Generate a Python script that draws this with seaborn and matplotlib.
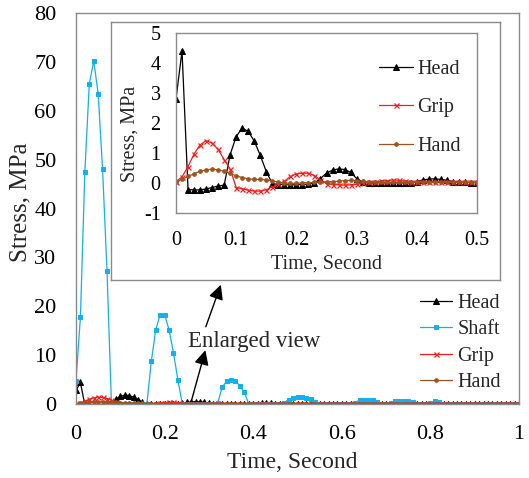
import numpy as np
import pandas as pd
import matplotlib
matplotlib.use("Agg")
import matplotlib.pyplot as plt
import seaborn as sns

# ---------------- data ----------------
time_s = np.round(np.arange(0, 101) * 0.01, 2)

head = [2.8, 4.4, -0.22, -0.23, -0.23, -0.2, -0.15, -0.1, -0.07, 0.95,
        1.55, 1.83, 1.72, 1.4, 0.92, 0.38, -0.02, -0.05, -0.05, -0.06,
        -0.06, -0.05, -0.04, 0.0, 0.15, 0.33, 0.43, 0.47, 0.45, 0.36,
        0.15, 0.03, 0.0, 0.0, 0.01, 0.0, 0.0, 0.01, 0.0, 0.0,
        0.05, 0.1, 0.13, 0.14, 0.12, 0.09, 0.05, 0.03, 0.02, 0.01,
        0.01, -0.02, -0.04, -0.05, -0.06, -0.06, -0.05, -0.04, -0.03, -0.02,
        -0.01, 0.0, 0.0, 0.01, 0.01, 0.0, 0.0, 0.0, -0.01, -0.01,
        0.0, 0.0, 0.0, 0.01, 0.0, 0.0, 0.0, 0.0, 0.0, 0.0,
        0.0, 0.0, 0.0, 0.0, 0.0, 0.0, 0.0, 0.0, 0.0, 0.0,
        0.0, 0.0, 0.0, 0.0, 0.0, 0.0, 0.0, 0.0, 0.0, 0.0, 0.0]

shaft = [4.8, 17.8, 47.5, 65.5, 70.2, 63.5, 48.0, 27.2, 0.0, 0.0,
         0.0, 0.0, 0.0, 0.0, 0.0, 0.0, 0.0, 8.7, 15.2, 18.3,
         18.3, 15.2, 10.5, 4.9, 0.0, 0.0, 0.0, 0.0, 0.0, 0.0,
         0.0, 0.0, 0.3, 3.4, 4.7, 5.0, 4.7, 3.7, 2.4, 0.0,
         0.0, 0.0, 0.0, 0.0, 0.0, 0.0, 0.0, 0.3, 0.9, 1.3,
         1.5, 1.5, 1.3, 1.0, 0.5, 0.0, 0.0, 0.0, 0.0, 0.0,
         0.0, 0.0, 0.0, 0.3, 0.8, 0.9, 0.9, 0.8, 0.5, 0.1,
         0.0, 0.3, 0.6, 0.6, 0.6, 0.6, 0.4, 0.0, 0.0, 0.0,
         0.3, 0.6, 0.5, 0.0, 0.0, 0.0, 0.0, 0.0, 0.0, 0.0,
         0.0, 0.0, 0.0, 0.0, 0.0, 0.0, 0.0, 0.0, 0.0, 0.0, 0.0]

grip = [0.05, 0.2, 0.55, 0.97, 1.27, 1.41, 1.33, 1.12, 0.78, 0.46,
        -0.15, -0.19, -0.24, -0.27, -0.27, -0.22, -0.13, -0.04, 0.06, 0.22,
        0.3, 0.33, 0.32, 0.25, 0.1, -0.02, -0.05, -0.06, -0.07, -0.06,
        -0.04, 0.0, 0.02, 0.04, 0.06, 0.08, 0.1, 0.09, 0.07, 0.05,
        0.03, 0.02, 0.02, 0.02, 0.02, 0.02, 0.02, 0.02, 0.02, 0.02,
        0.02, 0.02, 0.02, 0.02, 0.02, 0.02, 0.02, 0.02, 0.02, 0.02,
        0.02, 0.02, 0.02, 0.02, 0.02, 0.02, 0.02, 0.02, 0.02, 0.02,
        0.02, 0.02, 0.02, 0.02, 0.02, 0.02, 0.02, 0.02, 0.02, 0.02,
        0.02, 0.02, 0.02, 0.02, 0.02, 0.02, 0.02, 0.02, 0.02, 0.02,
        0.02, 0.02, 0.02, 0.02, 0.02, 0.02, 0.02, 0.02, 0.02, 0.02, 0.02]

hand = [0.05, 0.12, 0.22, 0.31, 0.39, 0.44, 0.46, 0.44, 0.39, 0.32,
        0.24, 0.18, 0.14, 0.12, 0.12, 0.11, 0.07, 0.03, 0.0, -0.01,
        -0.01, 0.0, 0.01, 0.02, 0.03, 0.04, 0.05, 0.06, 0.08, 0.09,
        0.08, 0.06, 0.04, 0.03, 0.03, 0.03, 0.03, 0.03, 0.03, 0.03,
        0.03, 0.03, 0.03, 0.03, 0.03, 0.03, 0.03, 0.03, 0.03, 0.03,
        0.03, 0.03, 0.03, 0.03, 0.03, 0.03, 0.03, 0.03, 0.03, 0.03,
        0.03, 0.03, 0.03, 0.03, 0.03, 0.03, 0.03, 0.03, 0.03, 0.03,
        0.03, 0.03, 0.03, 0.03, 0.03, 0.03, 0.03, 0.03, 0.03, 0.03,
        0.03, 0.03, 0.03, 0.03, 0.03, 0.03, 0.03, 0.03, 0.03, 0.03,
        0.03, 0.03, 0.03, 0.03, 0.03, 0.03, 0.03, 0.03, 0.03, 0.03, 0.03]

main_xticks = [0, 0.2, 0.4, 0.6, 0.8, 1]
main_yticks = [0, 10, 20, 30, 40, 50, 60, 70, 80]
inset_xticks = [0, 0.1, 0.2, 0.3, 0.4, 0.5]
inset_yticks = [-1, 0, 1, 2, 3, 4, 5]

df = pd.DataFrame({"Time": time_s, "Head": head, "Shaft": shaft,
                   "Grip": grip, "Hand": hand})
df_in = df[df["Time"] <= 0.5]

# ---------------- style ----------------
sns.set_theme(style="white")
plt.rcParams["font.family"] = ["Liberation Serif", "DejaVu Serif"]

GRAY = "#8a8a8a"
styles = {
    "Head": dict(color="black", marker="^", markersize=3.8, mec="black", mfc="black"),
    "Shaft": dict(color="#12B0EC", marker="s", markersize=3.4, mec="#12B0EC", mfc="#12B0EC"),
    "Grip": dict(color="#FF1A1A", marker="x", markersize=3.6, mec="#FF1A1A", mew=0.9),
    "Hand": dict(color="#A0521E", marker="o", markersize=2.6, mec="#A0521E", mfc="#A0521E"),
}

W, H = 529, 478
fig = plt.figure(figsize=(W / 100, H / 100), dpi=100)
fig.patch.set_facecolor("white")

def fx(px):
    return px / W

def fy(py):
    return 1 - py / H

# main axes: x 76..519 px, y 13..404 px
ax = fig.add_axes([fx(76), fy(404), fx(519) - fx(76), fy(13) - fy(404)])
for name in ["Head", "Shaft", "Grip", "Hand"]:
    st = styles[name]
    sns.lineplot(data=df, x="Time", y=name, ax=ax, label=name, linewidth=0.9,
                 **st)
ax.set_xlim(0, 1)
ax.set_ylim(0, 80)
ax.set_xticks(main_xticks)
ax.set_xticklabels([f"{v:g}" for v in main_xticks])
ax.set_yticks(main_yticks)
ax.set_yticklabels([f"{v:g}" for v in main_yticks])
ax.tick_params(axis="both", direction="in", length=4, width=0.8, color=GRAY,
               labelsize=16, labelcolor="black")
ax.tick_params(axis="x", pad=15)
ax.tick_params(axis="y", pad=14)
for sp in ax.spines.values():
    sp.set_color(GRAY)
    sp.set_linewidth(1.0)
ax.set_xlabel("Time, Second", fontsize=17)
ax.set_ylabel("Stress, MPa", fontsize=18)
ax.xaxis.set_label_coords(0.488, -0.124)
ax.yaxis.set_label_coords(-0.100, 0.515)

ax.legend(loc="upper left", bbox_to_anchor=(fx(420), fy(294)),
          bbox_transform=fig.transFigure, frameon=False, fontsize=14.5,
          handlelength=1.6, handletextpad=0.25, labelspacing=0.36,
          borderpad=0, borderaxespad=0)

ax.text(0.253, 11.7, "Enlarged view", fontsize=16.5, ha="left", va="baseline")
arrow_kw = dict(arrowstyle="-|>", mutation_scale=22, lw=1.0, color="black",
                shrinkA=0, shrinkB=0)
ax.annotate("", xy=(0.327, 24.4), xytext=(0.293, 15.8), arrowprops=arrow_kw)
ax.annotate("", xy=(0.292, 11.0), xytext=(0.261, 0.8), arrowprops=arrow_kw)

# inset outer frame: 111..500 x 22..280 px
axf = fig.add_axes([fx(111), fy(280), fx(500) - fx(111), fy(22) - fy(280)])
axf.set_facecolor("white")
axf.set_xticks([])
axf.set_yticks([])
for sp in axf.spines.values():
    sp.set_color(GRAY)
    sp.set_linewidth(1.0)

# inset plot area: 176..477 x 33..213 px
axi = fig.add_axes([fx(176), fy(213), fx(477) - fx(176), fy(33) - fy(213)])
for name in ["Head", "Grip", "Hand"]:
    st = styles[name]
    sns.lineplot(data=df_in, x="Time", y=name, ax=axi, label=name,
                 linewidth=0.9, **st)
axi.set_xlim(0, 0.5)
axi.set_ylim(-1, 5)
axi.set_xticks(inset_xticks)
axi.set_xticklabels([f"{v:g}" for v in inset_xticks])
axi.set_yticks(inset_yticks)
axi.set_yticklabels([f"{v:g}" for v in inset_yticks])
axi.tick_params(axis="both", direction="in", length=4, width=0.8, color=GRAY,
                labelsize=14.5, labelcolor="black")
axi.tick_params(axis="x", pad=13)
axi.tick_params(axis="y", pad=11)
for sp in axi.spines.values():
    sp.set_color(GRAY)
    sp.set_linewidth(1.0)
axi.set_xlabel("Time, Second", fontsize=14.5)
axi.set_ylabel("Stress, MPa", fontsize=14.5)
axi.xaxis.set_label_coords(0.50, -0.23)
axi.yaxis.set_label_coords(-0.12, 0.44)
axi.legend(loc="upper left", bbox_to_anchor=(fx(379), fy(60)),
           bbox_transform=fig.transFigure, frameon=False, fontsize=14.5,
           handlelength=1.7, handletextpad=0.2, labelspacing=0.95,
           borderpad=0, borderaxespad=0)

fig.savefig("out.png", dpi=100, facecolor="white")
